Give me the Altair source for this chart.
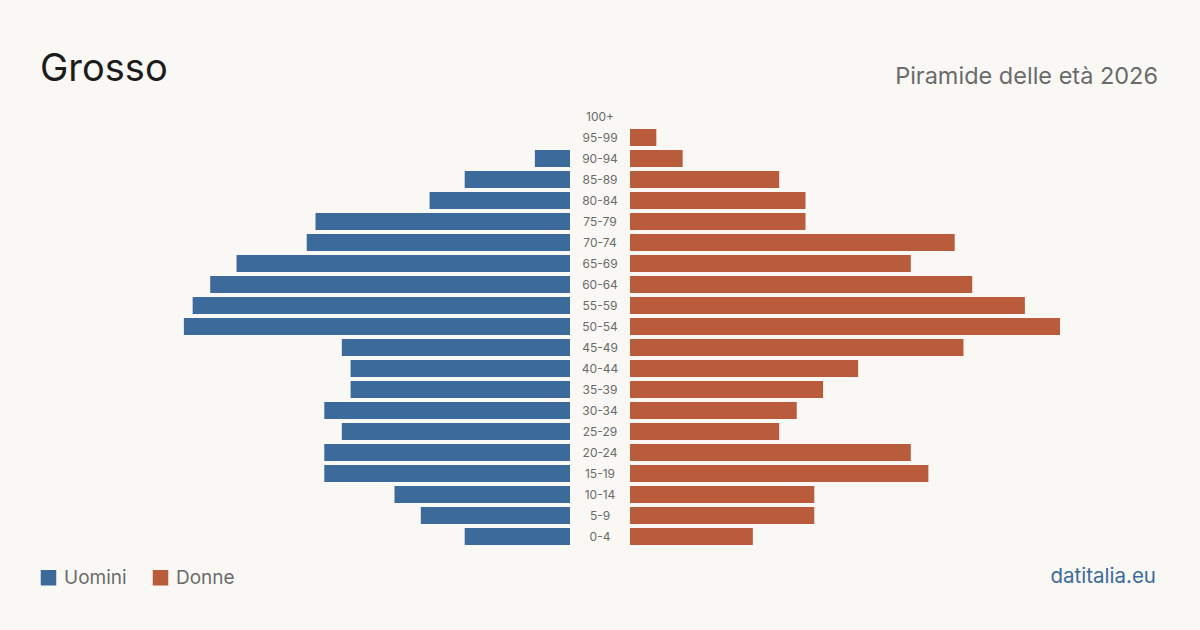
import altair as alt
import pandas as pd

# Age bands, bottom to top
ages = ["0-4", "5-9", "10-14", "15-19", "20-24", "25-29", "30-34", "35-39",
        "40-44", "45-49", "50-54", "55-59", "60-64", "65-69", "70-74",
        "75-79", "80-84", "85-89", "90-94", "95-99", "100+"]
uomini = [12, 17, 20, 28, 28, 26, 28, 25, 25, 26, 44, 43, 41, 38, 30, 29, 16, 12, 4, 0, 0]
donne = [14, 21, 21, 34, 32, 17, 19, 22, 26, 38, 49, 45, 39, 32, 37, 20, 20, 17, 6, 3, 0]

BLUE = "#3b6a9b"
ORANGE = "#b95c3c"
BG = "#f9f8f4"
GREY = "#6b6b6b"

# Layout: plot area spans the full width between side margins, with a central
# gap for the age labels and each half of the pyramid 430 px long at most.
W, H = 1120, 441
GAP = 30
SPAN = 430
max_val = max(max(uomini), max(donne))
D = max_val * (W / 2) / SPAN

df = pd.DataFrame({"eta": ages, "Uomini": uomini, "Donne": donne})
order = list(reversed(ages))

y_enc = alt.Y("eta:N", sort=order, axis=None,
              scale=alt.Scale(domain=order, paddingInner=0.19, paddingOuter=0.095))
x_scale = alt.Scale(domain=[-D, D], nice=False, zero=False)
color_scale = alt.Scale(domain=["Uomini", "Donne"], range=[BLUE, ORANGE])
legend = alt.Legend(
    orient="none", legendX=-1, legendY=462, direction="horizontal", title=None,
    symbolType="square", symbolSize=240, symbolStrokeWidth=0, symbolOpacity=1,
    labelFontSize=19, labelColor=GREY, labelFont="Inter", labelOffset=6,
    columnPadding=24,
)

base = alt.Chart(df)

men = base.transform_calculate(neg="-datum.Uomini", sesso="'Uomini'").mark_bar(
    xOffset=-GAP, x2Offset=-GAP
).encode(
    x=alt.X("neg:Q", scale=x_scale, axis=None),
    x2=alt.datum(0),
    y=y_enc,
    color=alt.Color("sesso:N", scale=color_scale, legend=legend),
)

women = base.transform_calculate(sesso="'Donne'").mark_bar(
    xOffset=GAP, x2Offset=GAP
).encode(
    x=alt.X("Donne:Q", scale=x_scale, axis=None),
    x2=alt.datum(0),
    y=y_enc,
    color=alt.Color("sesso:N", scale=color_scale, legend=legend),
)

labels = base.mark_text(fontSize=12, color=GREY, font="Inter", align="center",
                        baseline="middle").encode(
    x=alt.value(W / 2),
    y=y_enc,
    text="eta:N",
)

def caption(text, x, y, size, color, align="left"):
    return alt.Chart(pd.DataFrame({"t": [text]})).mark_text(
        fontSize=size, color=color, font="Inter", align=align, baseline="alphabetic"
    ).encode(x=alt.value(x), y=alt.value(y), text="t:N")

title = caption("Grosso", 0, -25.5, 38, "#1c1c1c")
subtitle = caption("Piramide delle età 2026", W - 2, -21.7, 23.5, GREY, "right")
footer = caption("datitalia.eu", W - 4, 477.3, 20.5, BLUE, "right")

chart = alt.layer(men, women, labels, title, subtitle, footer).properties(
    width=W, height=H,
    background=BG,
    padding={"left": 40, "right": 40, "top": 106, "bottom": 83},
    autosize=alt.AutoSizeParams(type="none"),
).configure_view(stroke=None)

chart.save("out.html", embed_options={"renderer": "svg", "actions": False})
